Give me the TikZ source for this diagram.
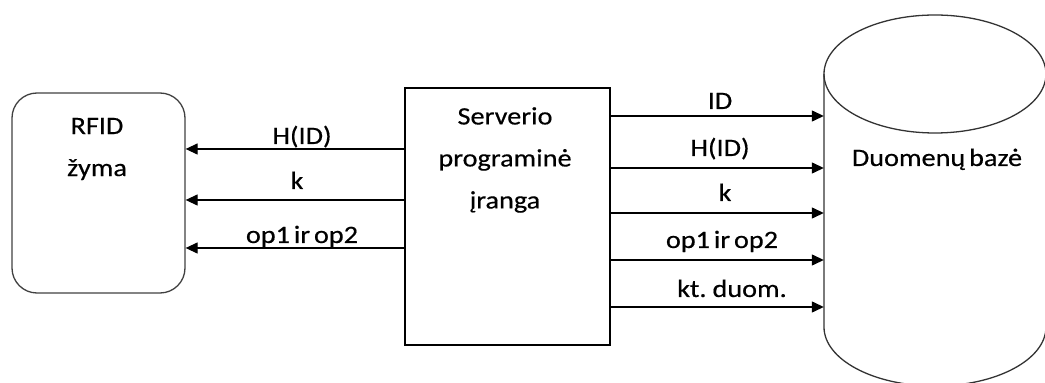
\documentclass[tikz,border=0pt]{standalone}
\usepackage{fontspec}
\setmainfont{Carlito}[FakeStretch=1.13, FakeBold=0.4, WordSpace=0.6]
\usetikzlibrary{arrows.meta}
\begin{document}
\begin{tikzpicture}[x=1pt,y=1pt,
  lbl/.style={font=\fontsize{25}{42}\selectfont, anchor=base, inner sep=0pt},
  mlbl/.style={font=\fontsize{25}{42}\selectfont, align=center, inner sep=0pt},
  box/.style={draw, line width=1.3pt},
  cyl/.style={draw=black!80, line width=1.3pt},
  arr/.style={-{Triangle[length=12pt,width=11pt]}, line width=1.3pt}]
\useasboundingbox (0,0) rectangle (1045,383);
\clip (0,0) rectangle (1045,383);
% RFID tag
\node[box, draw=black!75, rounded corners=25pt, minimum width=173pt, minimum height=200pt] (rfid) at (98.5,190) {};
\node[mlbl] (rfidt) at (97,234) {RFID\\žyma};
% server
\node[box, minimum width=205pt, minimum height=257pt] (srv) at (507.5,166.5) {};
\node[mlbl] (srvt) at (505,223) {Serverio\\programinė\\įranga};
% database
\node[minimum width=222pt, minimum height=253pt, inner sep=0pt] (db) at (935,182.5) {};
\draw[cyl] (824,309) -- (824,56) arc[start angle=180, end angle=360, x radius=111, y radius=59];
\draw[cyl] (935,309) ellipse[x radius=111, y radius=59];
\node[lbl] (dbt) at (937,217) {Duomenų bazė};
% left arrows
\draw[arr] (srv.west |- 0,234) -- (rfid.east |- 0,234);
\draw[arr] (srv.west |- 0,183) -- (rfid.east |- 0,183);
\draw[arr] (srv.west |- 0,135) -- (rfid.east |- 0,135);
\node[lbl] (la) at (302,239) {H(ID)};
\node[lbl] (lb) at (297,194) {k};
\node[lbl] (lc) at (302,140) {op1 ir op2};
% right arrows
\draw[arr] (srv.east |- 0,267) -- (db.west |- 0,267);
\draw[arr] (srv.east |- 0,215) -- (db.west |- 0,215);
\draw[arr] (srv.east |- 0,170) -- (db.west |- 0,170);
\draw[arr] (srv.east |- 0,123) -- (db.west |- 0,123);
\draw[arr] (srv.east |- 0,76) -- (db.west |- 0,76);
\node[lbl] (ra) at (720,274) {ID};
\node[lbl] (rb) at (720,227) {H(ID)};
\node[lbl] (rc) at (725,182) {k};
\node[lbl] (rd) at (722,135) {op1 ir op2};
\node[lbl] (re) at (732,86) {kt. duom.};
\end{tikzpicture}
\end{document}
